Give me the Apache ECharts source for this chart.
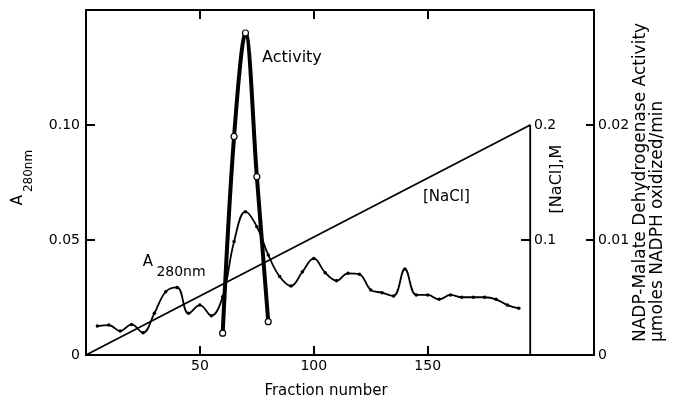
<!DOCTYPE html>
<html>
<head>
<meta charset="utf-8">
<script src="https://cdn.jsdelivr.net/npm/echarts@6/dist/echarts.min.js"></script>
<style>html,body{margin:0;padding:0;background:#fff;}#c{width:674px;height:400px;}</style>
</head>
<body>
<div id="c"></div>
<script>
// ---- data ----
const fractionA280 = [5,10,15,20,25,30,35,40,45,50,55,60,65,70,75,80,85,90,95,100,105,110,115,120,125,130,135,140,145,150,155,160,165,170,175,180,185,190];
const a280Values = [0.0126,0.0130,0.0104,0.0133,0.0097,0.0181,0.0275,0.0294,0.0181,0.0217,0.0171,0.0253,0.0493,0.0623,0.0558,0.0435,0.0341,0.0300,0.0362,0.0420,0.0358,0.0323,0.0355,0.0351,0.0283,0.0271,0.0257,0.0374,0.0261,0.0261,0.0242,0.0261,0.0251,0.0251,0.0251,0.0242,0.0217,0.0203];
const fractionActivity = [60,65,70,75,80];
const activityValues = [0.0019,0.0190,0.0280,0.0155,0.0029];
const naclFraction = [0,195,195];
const naclConc = [0,0.2,0];
const xTickValues = [50,100,150];
const leftTickValues = [0.05,0.10];
const leftLabelValues = [0,0.05,0.10];
const actTickValues = [0.01,0.02];
const actLabelValues = [0,0.01,0.02];
const naclTickValues = [0.1];
const naclLabelValues = [0.1,0.2];

const FONT = 'DejaVu Sans';
const black = '#000';
const zip = (xs, ys) => xs.map((x, i) => [x, ys[i]]);

const axisLine = {show:true, onZero:false, lineStyle:{color:black, width:2}};
const tick = (vals, len, inside) => ({show:true, inside:inside, length:len, customValues:vals, lineStyle:{color:black, width:2}});
const lbl = (vals, size, margin, fmt, inside) => ({show:true, inside:!!inside, customValues:vals, color:black, fontSize:size, fontFamily:FONT, margin:margin, formatter:fmt});
const fmt2 = v => v === 0 ? '0' : v.toFixed(2);

const chart = echarts.init(document.getElementById('c'), null, {renderer:'canvas'});
chart.setOption({
  animation:false,
  backgroundColor:'#fff',
  grid:{left:86, right:80, top:10, bottom:45, containLabel:false},
  xAxis:[
    {type:'value', position:'bottom', min:0, max:223, interval:50,
     axisLine:axisLine, axisTick:tick(xTickValues,9,true),
     axisLabel:lbl(xTickValues,14,4,v=>String(v)), splitLine:{show:false}},
    {type:'value', position:'top', min:0, max:223, interval:50,
     axisLine:axisLine, axisTick:tick(xTickValues,9,true),
     axisLabel:{show:false}, splitLine:{show:false}}
  ],
  yAxis:[
    {type:'value', position:'left', min:0, max:0.15, interval:0.05,
     axisLine:axisLine, axisTick:tick(leftTickValues,9,true),
     axisLabel:lbl(leftLabelValues,14,6,fmt2), splitLine:{show:false}},
    {type:'value', position:'right', min:0, max:0.03, interval:0.01,
     axisLine:axisLine, axisTick:tick(actTickValues,8,true),
     axisLabel:lbl(actLabelValues,14,4,fmt2), splitLine:{show:false}},
    {type:'value', position:'left', offset:-444, min:0, max:0.3, interval:0.1,
     axisLine:{show:false}, axisTick:tick(naclTickValues,9,false),
     axisLabel:lbl(naclLabelValues,14,4,v=>v.toFixed(1),true), splitLine:{show:false}}
  ],
  series:[
    {name:'[NaCl]', type:'line', xAxisIndex:0, yAxisIndex:2, data:zip(naclFraction,naclConc),
     symbol:'none', lineStyle:{color:black, width:1.8}, z:2},
    {name:'A280nm', type:'line', xAxisIndex:0, yAxisIndex:0, data:zip(fractionA280,a280Values),
     smooth:0.4, symbol:'circle', symbolSize:3.5, showSymbol:true,
     itemStyle:{color:black}, lineStyle:{color:black, width:1.8}, z:3},
    {name:'Activity', type:'line', xAxisIndex:0, yAxisIndex:1, data:zip(fractionActivity,activityValues),
     smooth:0.35, symbol:'circle', symbolSize:6, showSymbol:true,
     itemStyle:{color:'#fff', borderColor:black, borderWidth:1.2}, lineStyle:{color:black, width:4}, z:4}
  ],
  graphic:[
    {type:'text', x:262, y:50, style:{text:'Activity', fill:black, font:'16px "DejaVu Sans"', align:'left', verticalAlign:'top'}},
    {type:'text', x:423, y:190, style:{text:'[NaCl]', fill:black, font:'15px "DejaVu Sans"', align:'left', verticalAlign:'top'}},
    {type:'text', x:148, y:262, style:{text:'A', fill:black, font:'15px "DejaVu Sans"', align:'center', verticalAlign:'middle'}},
    {type:'text', x:181, y:272, style:{text:'280nm', fill:black, font:'14px "DejaVu Sans"', align:'center', verticalAlign:'middle'}},
    {type:'text', x:18, y:200, rotation:Math.PI/2, style:{text:'A', fill:black, font:'15px "DejaVu Sans"', align:'center', verticalAlign:'middle'}},
    {type:'text', x:29, y:171, rotation:Math.PI/2, style:{text:'280nm', fill:black, font:'12px "DejaVu Sans"', align:'center', verticalAlign:'middle'}},
    {type:'text', x:557, y:179, rotation:Math.PI/2, style:{text:'[NaCl],M', fill:black, font:'16px "DejaVu Sans"', align:'center', verticalAlign:'middle'}},
    {type:'text', x:641, y:342, rotation:Math.PI/2, style:{text:'NADP-Malate Dehydrogenase Activity', fill:black, font:'17px "DejaVu Sans"', align:'left', verticalAlign:'middle'}},
    {type:'text', x:658, y:342, rotation:Math.PI/2, style:{text:'µmoles NADPH oxidized/min', fill:black, font:'17px "DejaVu Sans"', align:'left', verticalAlign:'middle'}},
    {type:'text', x:326, y:391, style:{text:'Fraction number', fill:black, font:'15px "DejaVu Sans"', align:'center', verticalAlign:'middle'}}
  ]
});
</script>
</body>
</html>
